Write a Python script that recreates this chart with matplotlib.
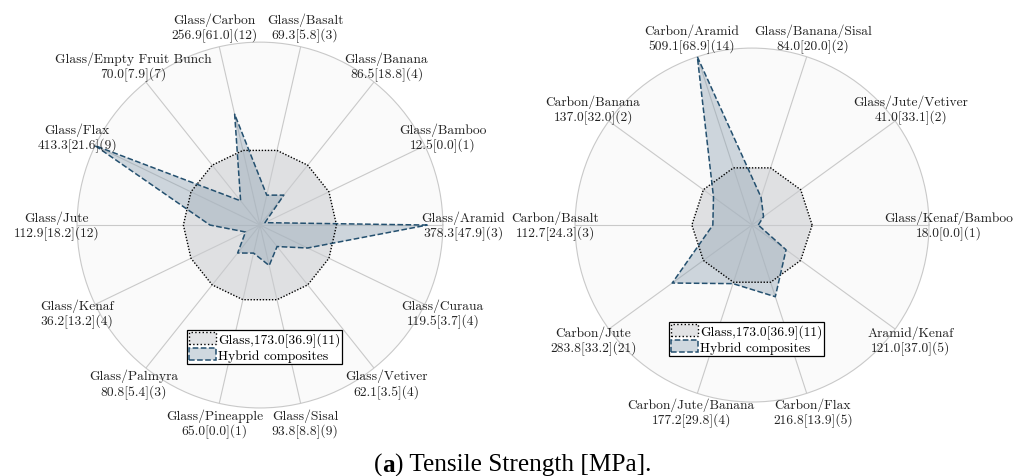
import numpy as np
import matplotlib
matplotlib.use("Agg")
import matplotlib.pyplot as plt
from matplotlib.patches import Patch

#%% Data

left_labels = ['Glass/Aramid', 'Glass/Bamboo', 'Glass/Banana', 'Glass/Basalt',
               'Glass/Carbon', 'Glass/Empty Fruit Bunch', 'Glass/Flax', 'Glass/Jute',
               'Glass/Kenaf', 'Glass/Palmyra', 'Glass/Pineapple', 'Glass/Sisal',
               'Glass/Vetiver', 'Glass/Curaua']
left_mean = [378.3, 12.5, 86.5, 69.3, 256.9, 70.0, 413.3, 112.9, 36.2, 80.8, 65.0, 93.8, 62.1, 119.5]
left_sd = [47.9, 0.0, 18.8, 5.8, 61.0, 7.9, 21.6, 18.2, 13.2, 5.4, 0.0, 8.8, 3.5, 3.7]
left_n = [3, 1, 4, 3, 12, 7, 9, 12, 4, 3, 1, 9, 4, 4]

right_labels = ['Glass/Kenaf/Bamboo', 'Glass/Jute/Vetiver', 'Glass/Banana/Sisal',
                'Carbon/Aramid', 'Carbon/Banana', 'Carbon/Basalt', 'Carbon/Jute',
                'Carbon/Jute/Banana', 'Carbon/Flax', 'Aramid/Kenaf']
right_mean = [18.0, 41.0, 84.0, 509.1, 137.0, 112.7, 283.8, 177.2, 216.8, 121.0]
right_sd = [0.0, 33.1, 20.0, 68.9, 32.0, 24.3, 33.2, 29.8, 13.9, 37.0]
right_n = [1, 2, 2, 14, 2, 3, 21, 4, 5, 5]

# reference: plain glass
glass_mean = 173.0
glass_sd = 36.9
glass_n = 11

#%% Style

label_font = 'cmr10'
fs = 9.7
grid_col = '#c9c9c9'
bg_col = '#fafafa'
base_face = '#c9cbcf'
hyb_face = '#8fa3b3'
hyb_edge = '#24506f'


def radar(rect, labels, mean, sd, n, legend_pos):
    ax = fig.add_axes(rect, projection='polar')
    k = len(labels)
    ang = np.arange(k) * 2 * np.pi / k
    rmax = max(mean)

    ax.set_ylim(0, rmax)
    ax.set_facecolor(bg_col)
    ax.spines['polar'].set_color(grid_col)
    ax.spines['polar'].set_linewidth(0.8)
    ax.set_xticks(ang)
    ax.set_xticklabels([])
    ax.set_yticks([])
    ax.xaxis.grid(True, color=grid_col, linewidth=0.8)
    ax.tick_params(length=0)

    ang_c = np.append(ang, ang[0])
    base = np.full(k + 1, glass_mean)
    ax.fill(ang_c, base, facecolor=base_face, alpha=0.55, zorder=2)
    ax.plot(ang_c, base, color='black', linestyle=(0, (1, 1.2)), linewidth=1.0, zorder=3)

    vals = np.append(mean, mean[0])
    ax.fill(ang_c, vals, facecolor=hyb_face, alpha=0.42, zorder=2)
    ax.plot(ang_c, vals, color=hyb_edge, linestyle='--', linewidth=1.1, zorder=3)

    for a, lab, m, s, c in zip(ang, labels, mean, sd, n):
        ax.text(a, rmax * 1.11, f"{lab}\n{m:.1f}[{s:.1f}]({c})",
                ha='center', va='center', fontsize=fs, family=label_font,
                color='#222222', linespacing=1.2, clip_on=False)

    handles = [Patch(facecolor='#e2e3e5', edgecolor='black', linestyle=':', linewidth=1.0),
               Patch(facecolor='#cfd8df', edgecolor=hyb_edge, linestyle='--', linewidth=1.1)]
    names = [f"Glass,{glass_mean:.1f}[{glass_sd:.1f}]({glass_n})", 'Hybrid composites']
    leg = fig.legend(handles, names, loc='center', bbox_to_anchor=legend_pos,
                     prop={'family': label_font, 'size': fs}, fancybox=False,
                     edgecolor='black', framealpha=1, borderpad=0.15,
                     handlelength=2.0, handleheight=1.0, handletextpad=0.15,
                     labelspacing=0.1, borderaxespad=0)
    leg.get_frame().set_linewidth(0.9)
    return ax


fig = plt.figure(figsize=(10.19, 4.77), dpi=100)

radar([0.0756, 0.1426, 0.359, 0.767], left_labels, left_mean, left_sd, left_n, (0.2596, 0.2704))
radar([0.5643, 0.1551, 0.3474, 0.742], right_labels, right_mean, right_sd, right_n, (0.7326, 0.2872))

# caption with bold panel letter
cap_font = 'Liberation Serif'
cs = 18.2
t1 = fig.text(0.367, 0.0, '(', fontsize=cs, family=cap_font, ha='left', va='bottom')
t2 = plt.annotate('a', xy=(1, 0), xycoords=t1, fontsize=cs, family=cap_font,
                  weight='bold', va='bottom', annotation_clip=False)
t3 = plt.annotate(') Tensile Strength [MPa].', xy=(1, 0), xycoords=t2, fontsize=cs,
                  family=cap_font, va='bottom', annotation_clip=False)

plt.savefig('out.png', dpi=100)
